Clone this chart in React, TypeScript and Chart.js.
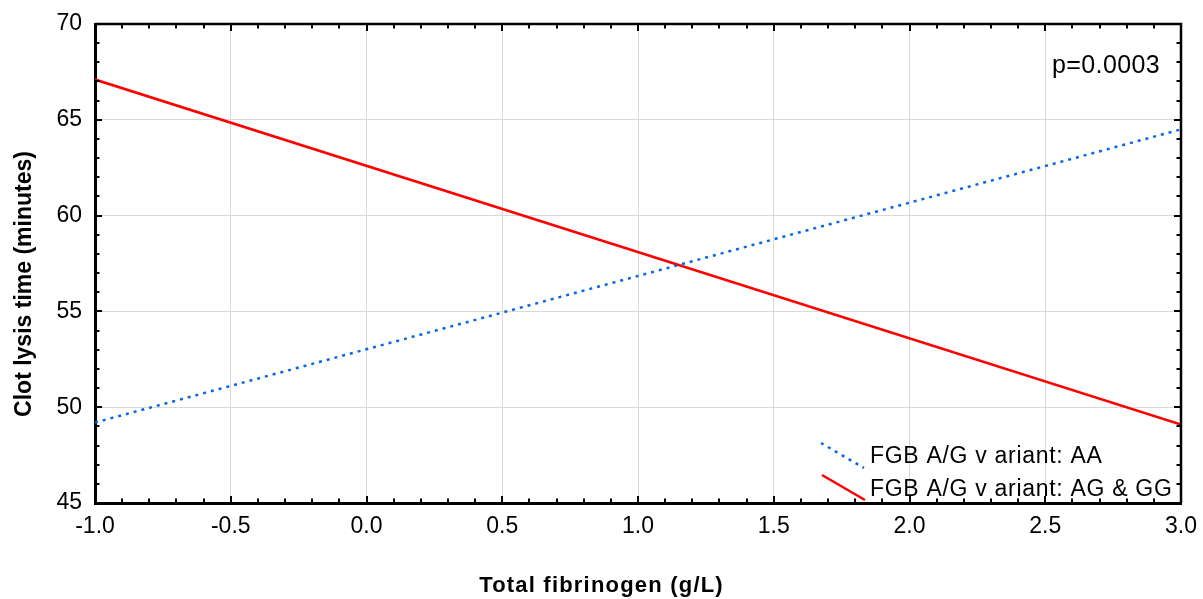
import React, { useEffect, useRef } from "react";
import { Chart, registerables } from "chart.js";

Chart.register(...registerables);

// ---- Data ----
const xEnds: number[] = [-1.0, 3.0];
const aaValues: number[] = [49.2, 64.5];
const agGgValues: number[] = [67.1, 49.1];
const seriesLabels: string[] = ["FGB A/G v ariant: AA", "FGB A/G v ariant: AG & GG"];
const xTickValues: number[] = [-1.0, -0.5, 0.0, 0.5, 1.0, 1.5, 2.0, 2.5, 3.0];
const yTickValues: number[] = [45, 50, 55, 60, 65, 70];
const pValueText = "p=0.0003";
const xTitle = "Total fibrinogen (g/L)";
const yTitle = "Clot lysis time (minutes)";

const FONT = "'Liberation Sans', Arial, Helvetica, sans-serif";
const BLUE = "#0b66e4";
const RED = "#ff0000";

function setSpacing(ctx: any, px: number) {
  if ("letterSpacing" in ctx) ctx.letterSpacing = `${px}px`;
}

const framePlugin = {
  id: "frameTicks",
  afterDraw(chart: any) {
    const { ctx, chartArea, scales, width, height } = chart;
    const { left, right, top, bottom } = chartArea;
    const xs = scales.x;
    const ys = scales.y;
    ctx.save();
    ctx.strokeStyle = "#000";
    ctx.lineWidth = 2.5;
    ctx.beginPath();
    ctx.moveTo(left, top);
    ctx.lineTo(right, top);
    ctx.lineTo(right, bottom);
    ctx.stroke();

    ctx.lineWidth = 2;
    const xMin = xTickValues[0];
    const xMax = xTickValues[xTickValues.length - 1];
    const nX = Math.round((xMax - xMin) / 0.1);
    ctx.beginPath();
    for (let i = 0; i <= nX; i++) {
      const v = xMin + i * 0.1;
      const px = Math.round(xs.getPixelForValue(v));
      const len = i % 5 === 0 ? 7 : 4.5;
      ctx.moveTo(px, bottom);
      ctx.lineTo(px, bottom - len);
      ctx.moveTo(px, top);
      ctx.lineTo(px, top + len);
    }
    const yMin = yTickValues[0];
    const yMax = yTickValues[yTickValues.length - 1];
    for (let v = yMin; v <= yMax; v++) {
      const py = Math.round(ys.getPixelForValue(v));
      const len = (v - yMin) % 5 === 0 ? 7 : 4.5;
      ctx.moveTo(left, py);
      ctx.lineTo(left + len, py);
      ctx.moveTo(right, py);
      ctx.lineTo(right - len, py);
    }
    ctx.stroke();

    // p-value annotation
    ctx.fillStyle = "#000";
    ctx.font = `25px ${FONT}`;
    setSpacing(ctx, 0.4);
    ctx.textAlign = "left";
    ctx.textBaseline = "alphabetic";
    ctx.fillText(pValueText, right - 129, top + 49);

    // legend
    const lx0 = right - 360;
    const lx1 = right - 317;
    ctx.strokeStyle = BLUE;
    ctx.lineWidth = 2.5;
    ctx.setLineDash([3, 5]);
    ctx.beginPath();
    ctx.moveTo(lx0, bottom - 60);
    ctx.lineTo(lx1, bottom - 35);
    ctx.stroke();
    ctx.setLineDash([]);
    ctx.strokeStyle = RED;
    ctx.beginPath();
    ctx.moveTo(lx0 + 1, bottom - 28);
    ctx.lineTo(lx1 + 1, bottom - 3);
    ctx.stroke();

    ctx.fillStyle = "#000";
    ctx.font = `23px ${FONT}`;
    setSpacing(ctx, 0.7);
    ctx.fillText(seriesLabels[0], right - 311, bottom - 40);
    ctx.fillText(seriesLabels[1], right - 311, bottom - 7);

    // axis titles
    ctx.font = `bold 22px ${FONT}`;
    setSpacing(ctx, 1.2);
    ctx.textAlign = "center";
    ctx.fillText(xTitle, width / 2, height - 7);

    ctx.font = `bold 23px ${FONT}`;
    setSpacing(ctx, 0);
    ctx.translate(31, 284);
    ctx.rotate(-Math.PI / 2);
    ctx.fillText(yTitle, 0, 0);
    ctx.restore();
  },
};

export default function App() {
  const canvasRef = useRef<HTMLCanvasElement | null>(null);

  useEffect(() => {
    const canvas = canvasRef.current;
    if (!canvas) return;
    const chart = new Chart(canvas, {
      type: "scatter",
      data: {
        datasets: [
          {
            label: seriesLabels[0],
            data: xEnds.map((x, i) => ({ x, y: aaValues[i] })),
            showLine: true,
            borderColor: BLUE,
            borderWidth: 2.5,
            borderDash: [3, 5],
            borderCapStyle: "butt",
            pointRadius: 0,
            fill: false,
          },
          {
            label: seriesLabels[1],
            data: xEnds.map((x, i) => ({ x, y: agGgValues[i] })),
            showLine: true,
            borderColor: RED,
            borderWidth: 2.5,
            pointRadius: 0,
            fill: false,
          },
        ],
      },
      options: {
        animation: false,
        responsive: false,
        events: [],
        layout: { padding: { left: 0, right: 22, top: 24, bottom: 0 } },
        plugins: {
          legend: { display: false },
          tooltip: { enabled: false },
          title: { display: false },
        },
        scales: {
          x: {
            type: "linear",
            min: xTickValues[0],
            max: xTickValues[xTickValues.length - 1],
            afterBuildTicks: (scale: any) => {
              scale.ticks = xTickValues.map((v) => ({ value: v }));
            },
            afterFit: (scale: any) => {
              scale.height = 96;
              scale.paddingLeft = 0;
              scale.paddingRight = 0;
            },
            ticks: {
              color: "#000",
              font: { family: FONT, size: 23 },
              padding: 10,
              maxRotation: 0,
              autoSkip: false,
              callback: (v: any) => Number(v).toFixed(1),
            },
            grid: { color: "#d9d9d9", lineWidth: 1, drawTicks: false },
            border: { display: true, color: "#000", width: 3 },
            title: { display: false },
          },
          y: {
            type: "linear",
            min: yTickValues[0],
            max: yTickValues[yTickValues.length - 1],
            afterBuildTicks: (scale: any) => {
              scale.ticks = yTickValues.map((v) => ({ value: v }));
            },
            afterFit: (scale: any) => {
              scale.width = 95;
              scale.paddingTop = 0;
              scale.paddingBottom = 0;
            },
            ticks: {
              color: "#000",
              font: { family: FONT, size: 23 },
              padding: 13,
              autoSkip: false,
              callback: (v: any) => String(v),
            },
            grid: { color: "#d9d9d9", lineWidth: 1, drawTicks: false },
            border: { display: true, color: "#000", width: 3 },
            title: { display: false },
          },
        },
      },
      plugins: [framePlugin],
    } as any);
    return () => chart.destroy();
  }, []);

  return (
    <div style={{ position: "absolute", left: 0, top: 0, width: 1203, height: 599 }}>
      <canvas ref={canvasRef} width={1203} height={599} style={{ display: "block", width: 1203, height: 599 }} />
    </div>
  );
}
